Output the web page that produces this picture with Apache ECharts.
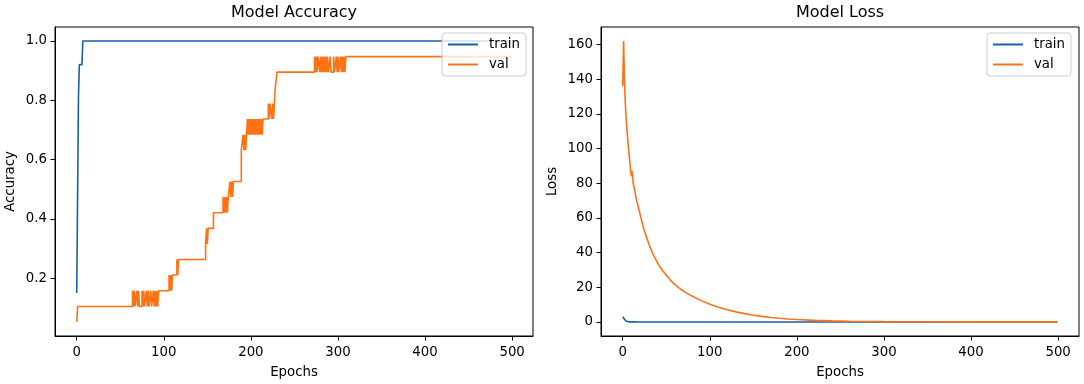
<!DOCTYPE html>
<html>
<head>
<meta charset="utf-8">
<title>Model Accuracy / Model Loss</title>
<script src="https://cdn.jsdelivr.net/npm/echarts@6/dist/echarts.min.js"></script>
<style>
    html, body { margin: 0; padding: 0; background: #fff; }
    #chart_1 { width: 1084px; height: 384px; }
</style>
</head>
<body>
<div id="chart_1"></div>
<script>
// tick labels
var epochTicks = [0, 100, 200, 300, 400, 500];
var accTicks = [0.2, 0.4, 0.6, 0.8, 1.0];
var lossTicks = [0, 20, 40, 60, 80, 100, 120, 140, 160];

// accuracy, [epoch, value]
var trainAcc = [[0, 0.15], [2, 0.81], [3, 0.92], [6, 0.92], [7, 1.0], [499, 1.0]];
// val accuracy holds each value until the next point (step line)
var valAcc = [
    [0, 0.053], [1, 0.105],
    [64, 0.158], [65, 0.105], [66, 0.158], [67, 0.105], [69, 0.158], [70, 0.105], [71, 0.158], [72, 0.105],
    [75, 0.158], [76, 0.105], [77, 0.158], [78, 0.105], [80, 0.158], [81, 0.105], [82, 0.158], [83, 0.105],
    [85, 0.158], [86, 0.105], [88, 0.158], [89, 0.105], [90, 0.158], [91, 0.105], [92, 0.158], [93, 0.105],
    [94, 0.158],
    [106, 0.211], [107, 0.158], [108, 0.211], [109, 0.158], [110, 0.211],
    [115, 0.263], [116, 0.211], [117, 0.263],
    [148, 0.316], [149, 0.368], [150, 0.316], [151, 0.368],
    [157, 0.421],
    [168, 0.474], [169, 0.421], [170, 0.474], [171, 0.421], [172, 0.474], [173, 0.421], [174, 0.474],
    [176, 0.526], [177, 0.474], [178, 0.526], [179, 0.474], [180, 0.526],
    [189, 0.632], [191, 0.684], [192, 0.632], [193, 0.684], [194, 0.632], [195, 0.684], [196, 0.737],
    [197, 0.684], [198, 0.737], [199, 0.684], [200, 0.737], [201, 0.684], [202, 0.737], [203, 0.684],
    [204, 0.737], [205, 0.684], [206, 0.737], [207, 0.684], [208, 0.737], [209, 0.684], [210, 0.737],
    [211, 0.684], [212, 0.737], [213, 0.684], [214, 0.737],
    [220, 0.789], [221, 0.737], [222, 0.789], [224, 0.737], [225, 0.789], [226, 0.737], [227, 0.789],
    [228, 0.842], [230, 0.895],
    [273, 0.947], [274, 0.895], [275, 0.947], [276, 0.895], [277, 0.947], [279, 0.895], [280, 0.947],
    [281, 0.895], [282, 0.947], [283, 0.895], [284, 0.947], [285, 0.895], [286, 0.947], [287, 0.895],
    [288, 0.947], [289, 0.895], [291, 0.947], [292, 0.895], [295, 0.947], [296, 0.895], [298, 0.947],
    [299, 0.895], [300, 0.947], [301, 0.895], [303, 0.947], [304, 0.895], [305, 0.947], [306, 0.895],
    [307, 0.947], [308, 0.895], [309, 0.947],
    [499, 0.947]
];

// loss, [epoch, value]
var trainLoss = [[0, 3.0], [1, 2.4], [2, 1.6], [3, 0.9], [4, 0.4], [5, 0.2], [6, 0.1], [8, 0.05], [15, 0.02], [499, 0.0]];
var valLoss = [
    [0, 136], [1, 162], [2, 140], [3, 126], [4, 117], [5, 110], [6, 104], [7, 98], [8, 93], [9, 88],
    [10, 84], [11, 87], [12, 80], [13, 78], [14, 75], [16, 70], [18, 66], [20, 62], [22, 58], [24, 54],
    [26, 51], [28, 48], [30, 45], [32, 42.5], [34, 40], [37, 37], [40, 34], [43, 31.5], [46, 29.5],
    [50, 27], [55, 24], [60, 21.5], [65, 19.5], [70, 17.7], [75, 16.2], [80, 14.8], [90, 12.3],
    [100, 10.2], [110, 8.5], [120, 7], [130, 5.8], [140, 4.8], [150, 3.9], [160, 3.2], [170, 2.6],
    [180, 2.1], [190, 1.7], [200, 1.4], [220, 0.9], [240, 0.6], [260, 0.4], [280, 0.3], [300, 0.2],
    [350, 0.1], [400, 0.06], [450, 0.04], [499, 0.03]
];

var FONT = 'DejaVu Sans';
var BLUE = '#1660ad';
var ORANGE = '#ff7214';

function xAxisOf(grid){
    return {
        type: 'value', gridIndex: grid,
        min: -24.95, max: 523.95,
        name: 'Epochs', nameLocation: 'middle', nameGap: 30,
        nameTextStyle: { fontFamily: FONT, fontSize: 13.3, color: '#000' },
        splitLine: { show: false },
        axisLine: { show: true, onZero: false, lineStyle: { color: '#000', width: 1 } },
        axisTick: { show: true, length: 4.5, customValues: epochTicks, lineStyle: { color: '#000' } },
        axisLabel: { customValues: epochTicks, margin: 10, fontFamily: FONT, fontSize: 13.3, color: '#000' }
    };
}

function yAxisOf(grid, name, min, max, ticks, gap, fmt){
    return {
        type: 'value', gridIndex: grid,
        min: min, max: max,
        name: name, nameLocation: 'middle', nameGap: gap,
        nameTextStyle: { fontFamily: FONT, fontSize: 13.3, color: '#000' },
        splitLine: { show: false },
        axisLine: { show: true, onZero: false, lineStyle: { color: '#000', width: 1 } },
        axisTick: { show: true, length: 4.5, customValues: ticks, lineStyle: { color: '#000' } },
        axisLabel: { customValues: ticks, margin: 8, formatter: fmt, fontFamily: FONT, fontSize: 13.3, color: '#000' }
    };
}

function legendOf(left){
    return {
        left: left, top: 33, orient: 'vertical',
        data: ['train', 'val'],
        itemWidth: 30, itemHeight: 14, itemGap: 7,
        padding: [5, 6, 5, 5],
        backgroundColor: 'rgba(255,255,255,0.8)',
        borderColor: '#cccccc', borderWidth: 1, borderRadius: 3,
        itemStyle: { opacity: 0, borderWidth: 0 },
        textStyle: { fontFamily: FONT, fontSize: 13.3, color: '#000', padding: [0, 0, 0, 6] }
    };
}

function lineOf(name, x, y, data, color, step){
    return {
        name: name, type: 'line', xAxisIndex: x, yAxisIndex: y,
        data: data, step: step || false,
        symbol: 'none', smooth: false,
        lineStyle: { color: color, width: 1.6 },
        itemStyle: { color: color }
    };
}

function initCreateBiao(){
    var myChart1 = echarts.init(document.getElementById('chart_1'), null, { renderer: 'canvas' });
    var option1 = {
        animation: false,
        backgroundColor: '#fff',
        title: [
            { text: 'Model Accuracy', left: 294, top: 5, textAlign: 'center', padding: 0,
              textStyle: { fontFamily: FONT, fontSize: 16, fontWeight: 'normal', color: '#000' } },
            { text: 'Model Loss', left: 840, top: 5, textAlign: 'center', padding: 0,
              textStyle: { fontFamily: FONT, fontSize: 16, fontWeight: 'normal', color: '#000' } }
        ],
        grid: [
            { left: 55, top: 27, width: 478, height: 310, show: true, borderColor: '#000', borderWidth: 1, backgroundColor: 'transparent' },
            { left: 601, top: 27, width: 478, height: 310, show: true, borderColor: '#000', borderWidth: 1, backgroundColor: 'transparent' }
        ],
        legend: [legendOf(442), legendOf(987)],
        xAxis: [xAxisOf(0), xAxisOf(1)],
        yAxis: [
            yAxisOf(0, 'Accuracy', 0.0053, 1.047, accTicks, 38, function(v){ return v.toFixed(1); }),
            yAxisOf(1, 'Loss', -8.1, 170.1, lossTicks, 42, function(v){ return String(Math.round(v)); })
        ],
        series: [
            lineOf('train', 0, 0, trainAcc, BLUE),
            lineOf('val', 0, 0, valAcc, ORANGE, 'end'),
            lineOf('train', 1, 1, trainLoss, BLUE),
            lineOf('val', 1, 1, valLoss, ORANGE)
        ]
    };
    myChart1.setOption(option1);
}

initCreateBiao();
</script>
</body>
</html>
